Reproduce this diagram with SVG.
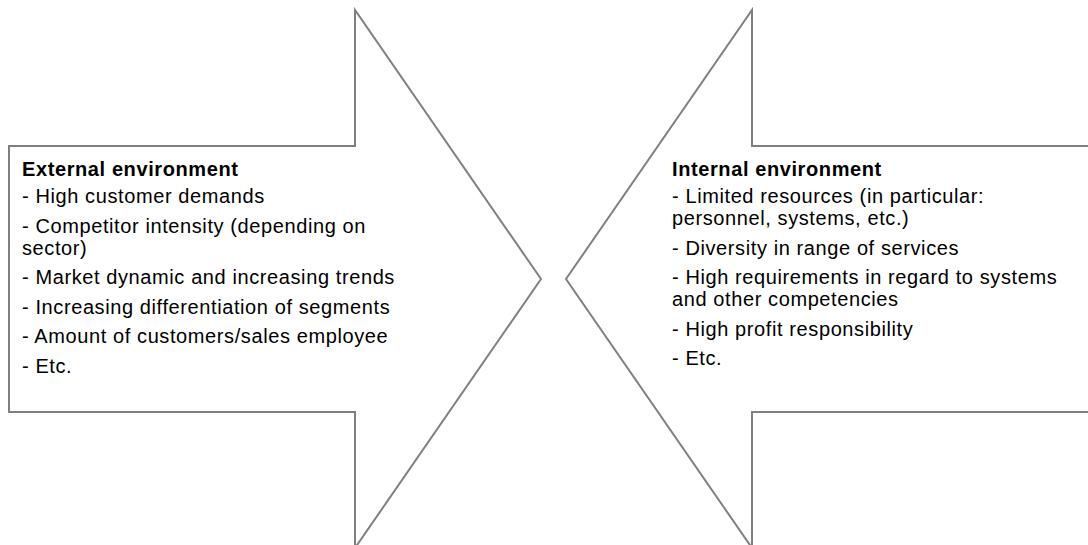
<svg xmlns="http://www.w3.org/2000/svg" width="1088" height="545" viewBox="0 0 1088 545">
  <style>
    .arrow { fill: #ffffff; stroke: #808080; stroke-width: 2; stroke-linejoin: miter; }
    .head { font-family: "Liberation Sans", Arial, sans-serif; font-size: 20px; font-weight: bold; fill: #000000; letter-spacing: 0.6px; }
    .item { font-family: "Liberation Sans", Arial, sans-serif; font-size: 20px; fill: #000000; letter-spacing: 0.6px; }
  </style>
  <rect width="1088" height="545" fill="#ffffff"/>

  <!-- Right-pointing block arrow: external factors -->
  <g id="external">
    <polygon class="arrow" points="9,146 355,146 355,10 541,279 355,548 355,412 9,412"/>
    <text class="head" x="22" y="176">External environment</text>
    <text class="item" x="22" y="203">- High customer demands</text>
    <text class="item" x="22" y="232.5">- Competitor intensity (depending on</text>
    <text class="item" x="22" y="254.5">sector)</text>
    <text class="item" x="22" y="284">- Market dynamic and increasing trends</text>
    <text class="item" x="22" y="313.5">- Increasing differentiation of segments</text>
    <text class="item" x="22" y="343">- Amount of customers/sales employee</text>
    <text class="item" x="22" y="372.5">- Etc.</text>
  </g>

  <!-- Left-pointing block arrow: internal factors -->
  <g id="internal">
    <polygon class="arrow" points="1092,146 752,146 752,10 566,279 752,548 752,412 1092,412"/>
    <text class="head" x="672" y="176">Internal environment</text>
    <text class="item" x="672" y="203">- Limited resources (in particular:</text>
    <text class="item" x="672" y="225">personnel, systems, etc.)</text>
    <text class="item" x="672" y="254.5">- Diversity in range of services</text>
    <text class="item" x="672" y="284">- High requirements in regard to systems</text>
    <text class="item" x="672" y="306">and other competencies</text>
    <text class="item" x="672" y="335.5">- High profit responsibility</text>
    <text class="item" x="672" y="365">- Etc.</text>
  </g>

  <g id="connectors"/>
</svg>
